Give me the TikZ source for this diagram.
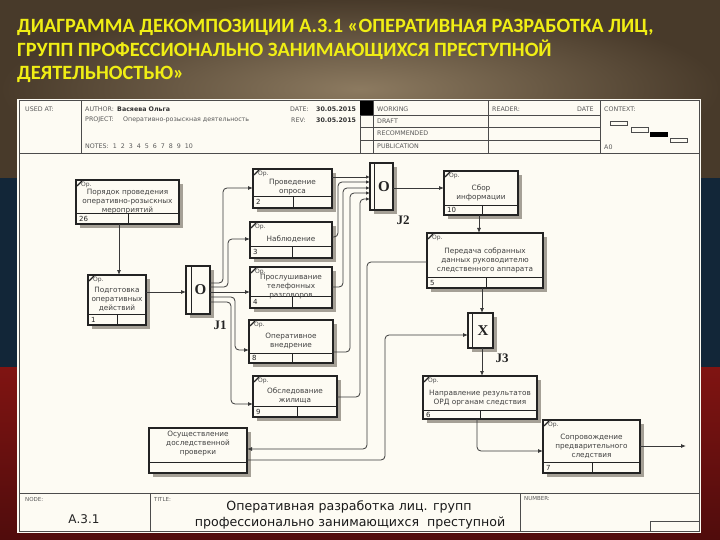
\documentclass[tikz,border=0pt]{standalone}
\usepackage{fontspec}
\setmainfont{DejaVu Sans}
\newfontfamily\ttlfont{Carlito}
\newfontfamily\serfont{Liberation Serif}
\usetikzlibrary{arrows.meta,calc}
\definecolor{panel}{RGB}{253,251,243}
\definecolor{ink}{RGB}{35,35,35}
\definecolor{brownA}{RGB}{140,122,96}
\definecolor{brownB}{RGB}{72,58,42}
\definecolor{navybg}{RGB}{18,38,56}
\definecolor{redbg}{RGB}{128,20,18}
\definecolor{redbgB}{RGB}{80,12,12}
\definecolor{ttlyellow}{RGB}{240,238,20}
\definecolor{shadowc}{RGB}{165,160,150}
\tikzset{
  boxst/.style={draw=ink, line width=1.3pt, fill=panel, inner sep=0pt, outer sep=0pt},
  jst/.style={draw=ink, line width=1.2pt, fill=panel, inner sep=0pt, outer sep=0pt},
  shadowst/.style={fill=shadowc},
  rowst/.style={draw=ink, line width=0.9pt},
  hline/.style={draw=black!70, line width=0.8pt},
  numst/.style={anchor=west, inner sep=0pt, font=\fontsize{7}{8}\selectfont, text=ink},
  txtst/.style={align=center, inner sep=0pt, font=\fontsize{7.3}{9}\selectfont, text=black!75},
  opst/.style={anchor=north west, inner sep=0pt, font=\fontsize{6}{7}\selectfont, text=black!70},
  hdr/.style={anchor=west, inner sep=0pt, font=\fontsize{6.3}{7}\selectfont, text=black!65},
  hdrb/.style={anchor=west, inner sep=0pt, font=\fontsize{6.3}{7}\selectfont\bfseries, text=black!80},
  jlab/.style={inner sep=0pt, font=\serfont\bfseries\fontsize{13}{14}\selectfont, text=ink},
  jsym/.style={inner sep=0pt, font=\serfont\bfseries\fontsize{15}{16}\selectfont, text=ink},
  conn/.style={draw=ink!90, line width=0.8pt, rounded corners=4pt},
  arr/.style={-{Latex[length=5pt,width=4pt]}},
  sarr/.style={-{Latex[length=4pt,width=3.5pt]}},
  ttl/.style={anchor=base west, inner sep=0pt, text=ttlyellow, font=\ttlfont\bfseries\fontsize{20.3}{24}\selectfont},
  ftit/.style={inner sep=0pt, anchor=base, font=\fontsize{12.6}{14}\selectfont, text=black!90}
}
\newcommand\ActBox[9]{%
  \fill[shadowst] ({#2+4},{#3+4}) rectangle ({#4+4},{#5+4});
  \node[boxst, minimum width={(#4-#2)*1pt}, minimum height={(#5-#3)*1pt}] (#1) at ({(#2+#4)/2},{(#3+#5)/2}) {};
  \draw[rowst] (#2,#6) -- (#4,#6) (#7,#6) -- (#7,#5);
  \node[numst] (#1n) at ({#2+3},{(#6+#5)/2}) {#8};
  \node[txtst] (#1t) at ({(#2+#4)/2},{(#3+#6)/2+5}) {#9};
  \node[opst] (#1o) at ({#2+5},{#3+2}) {Ор.};
  \draw[line width=1.1pt, ink] ({#2+1},{#3+6}) -- ({#2+6},{#3+1});
}
\begin{document}
\begin{tikzpicture}[x=1pt, y=-1pt]
\useasboundingbox (0,0) rectangle (720,540);
% background
\shade[inner color=brownA, outer color=brownB] (0,0) rectangle (720,178);
\fill[navybg] (0,178) rectangle (720,367);
\shade[top color=redbg, bottom color=redbgB] (0,367) rectangle (720,540);
% title
\node[ttl] (t1) at (17,33) {ДИАГРАММА ДЕКОМПОЗИЦИИ А.3.1 «ОПЕРАТИВНАЯ РАЗРАБОТКА ЛИЦ,};
\node[ttl] (t2) at (17,57) {ГРУПП ПРОФЕССИОНАЛЬНО ЗАНИМАЮЩИХСЯ ПРЕСТУПНОЙ};
\node[ttl] (t3) at (17,80) {ДЕЯТЕЛЬНОСТЬЮ»};
% panel
\fill[panel] (17,99) rectangle (701,533);
\draw[hline, line width=1pt] (19,101) rectangle (699,531);
% header
\draw[hline] (19,153) -- (699,153);
\draw[hline] (81,101) -- (81,153) (360,101) -- (360,153) (373,101) -- (373,153)
  (488,101) -- (488,153) (600,101) -- (600,153);
\draw[hline] (360,115) -- (600,115) (360,127) -- (600,127) (360,140) -- (600,140);
\fill[black] (360,101) rectangle (373,115);
\node[hdr] (usedat) at (25,109) {USED AT:};
\node[hdr] (author) at (85,109) {AUTHOR:};
\node[hdrb] (authorv) at (117,109) {Васяева Ольга};
\node[hdr] (date) at (290,109) {DATE:};
\node[hdrb] (datev) at (316,109) {30.05.2015};
\node[hdr] (project) at (85,120) {PROJECT:};
\node[hdr] (projectv) at (123,120) {Оперативно-розыскная деятельность};
\node[hdr] (rev) at (291,120) {REV:};
\node[hdrb] (revv) at (316,120) {30.05.2015};
\node[hdr] (notes) at (85,146) {NOTES:\ \ 1\ \ 2\ \ 3\ \ 4\ \ 5\ \ 6\ \ 7\ \ 8\ \ 9\ \ 10};
\node[hdr] (working) at (377,109) {WORKING};
\node[hdr] (draft) at (377,121) {DRAFT};
\node[hdr] (recom) at (377,133) {RECOMMENDED};
\node[hdr] (publ) at (377,146) {PUBLICATION};
\node[hdr] (reader) at (492,109) {READER:};
\node[hdr] (rdate) at (577,109) {DATE};
\node[hdr] (context) at (604,109) {CONTEXT:};
\node[hdr] (azero) at (604,147) {A0};
\draw[black!70, line width=0.8pt] (610,121) rectangle (627,125) (631,127) rectangle (648,132) (670,138) rectangle (687,142);
\fill[black] (650,132) rectangle (668,137);
% footer
\draw[hline] (19,493) -- (699,493) (150,493) -- (150,531) (520,493) -- (520,531);
\draw[hline] (650,531) -- (650,521) -- (699,521);
\node[hdr, font=\fontsize{5.5}{6}\selectfont] (node) at (25,499) {NODE:};
\node[hdr, font=\fontsize{5.5}{6}\selectfont] (title) at (154,499) {TITLE:};
\node[hdr, font=\fontsize{5.5}{6}\selectfont] (number) at (524,499) {NUMBER:};
\node[inner sep=0pt, anchor=base, font=\fontsize{12}{14}\selectfont, text=ink] (a31) at (84,523) {А.3.1};
\node[ftit] (ft1) at (349,510) {Оперативная разработка лиц. групп};
\node[ftit] (ft2) at (350,526) {профессионально занимающихся\ \ преступной};
% activity boxes
\ActBox{b26}{76}{180}{179}{224}{213}{128}{26}{Порядок проведения\\оперативно-розыскных\\мероприятий}
\ActBox{b1}{88}{275}{146}{325}{314}{117}{1}{Подготовка\\оперативных\\действий}
\ActBox{b2}{253}{169}{332}{208}{196}{293}{2}{Проведение\\опроса}
\ActBox{b3}{250}{222}{332}{258}{246}{292}{3}{Наблюдение}
\ActBox{b4}{250}{267}{332}{308}{296}{292}{4}{Прослушивание\\телефонных\\разговоров}
\ActBox{b8}{249}{320}{333}{363}{353}{292}{8}{Оперативное\\внедрение}
\ActBox{b9}{253}{376}{337}{417}{406}{297}{9}{Обследование\\жилища}
\ActBox{b10}{444}{171}{518}{215}{205}{482}{10}{Сбор\\информации}
\ActBox{b5}{427}{233}{543}{288}{277}{486}{5}{Передача собранных\\данных руководителю\\следственного аппарата}
\ActBox{b6}{423}{376}{537}{419}{410}{480}{6}{Направление результатов\\ОРД органам следствия}
\ActBox{b7}{543}{420}{640}{473}{462}{592}{7}{Сопровождение\\предварительного\\следствия}
% box without number
\fill[shadowst] (153,432) rectangle (251,477);
\node[boxst, minimum width=98pt, minimum height=45pt] (bos) at (198,450.5) {};
\draw[rowst] (149,462) -- (247,462);
\node[txtst] (bost) at (198,444) {Осуществление\\доследственной\\проверки};
% junctions
\fill[shadowst] (190,270) rectangle (214,318);
\node[jst, minimum width=24pt, minimum height=48pt] (j1) at (198,290) {};
\draw[ink, line width=1pt] (191,266) -- (191,314);
\node[jsym] (j1s) at (200.5,290) {O};
\node[jlab] (j1l) at (220,325) {J1};
\fill[shadowst] (374,167) rectangle (397,214);
\node[jst, minimum width=23pt, minimum height=47pt] (j2) at (381.5,186.5) {};
\draw[ink, line width=1pt] (374,163) -- (374,210);
\node[jsym] (j2s) at (384,187) {O};
\node[jlab] (j2l) at (403,220) {J2};
\fill[shadowst] (472,317) rectangle (497,352);
\node[jst, minimum width=25pt, minimum height=35pt] (j3) at (480.5,330.5) {};
\draw[ink, line width=1pt] (472,313) -- (472,348);
\node[jsym] (j3s) at (483,331) {X};
\node[jlab] (j3l) at (502,358) {J3};
% connectors
\coordinate (out7) at (686,446);
\draw[conn,arr] (b26.south -| 119,0) -- (b1.north -| 119,0);
\draw[conn,arr] (b1.east |- 0,292) -- (j1.west |- 0,292);
\draw[conn,arr] (j1.east |- 0,283) -| (223,188) -- (b2.west |- 0,188);
\draw[conn,arr] (j1.east |- 0,287) -| (228,239) -- (b3.west |- 0,239);
\draw[conn,arr] (j1.east |- 0,292) -- (b4.west |- 0,292);
\draw[conn,arr] (j1.east |- 0,297) -| (235,350) -- (b8.west |- 0,350);
\draw[conn,arr] (j1.east |- 0,302) -| (231,404) -- (b9.west |- 0,404);
\draw[conn,sarr] (b2.east |- 0,177) -- (j2.west |- 0,177);
\draw[conn,sarr] (b3.east |- 0,237) -| (338,182) -- (j2.west |- 0,182);
\draw[conn,sarr] (b4.east |- 0,287) -| (343,188) -- (j2.west |- 0,188);
\draw[conn,sarr] (b8.east |- 0,352) -| (350,193) -- (j2.west |- 0,193);
\draw[conn,sarr] (b9.east |- 0,397) -| (360,199) -- (j2.west |- 0,199);
\draw[conn,arr] (j2.east |- 0,188) -- (b10.west |- 0,188);
\draw[conn,arr] (b10.south -| 479,0) -- (b5.north -| 479,0);
\draw[conn,arr] (b5.south -| 482,0) -- (j3.north -| 482,0);
\draw[conn,arr] (b5.west |- 0,262) -| (367,449) -- (bos.east |- 0,449);
\draw[conn,arr] (bos.east |- 0,460) -| (385,335) -- (j3.west |- 0,335);
\draw[conn,arr] (j3.south -| 482,0) -- (b6.north -| 482,0);
\draw[conn,arr] (b6.south -| 477,0) |- (b7.west |- 0,451);
\draw[conn,arr] (b7.east |- 0,446) -- (out7);
\end{tikzpicture}
\end{document}
